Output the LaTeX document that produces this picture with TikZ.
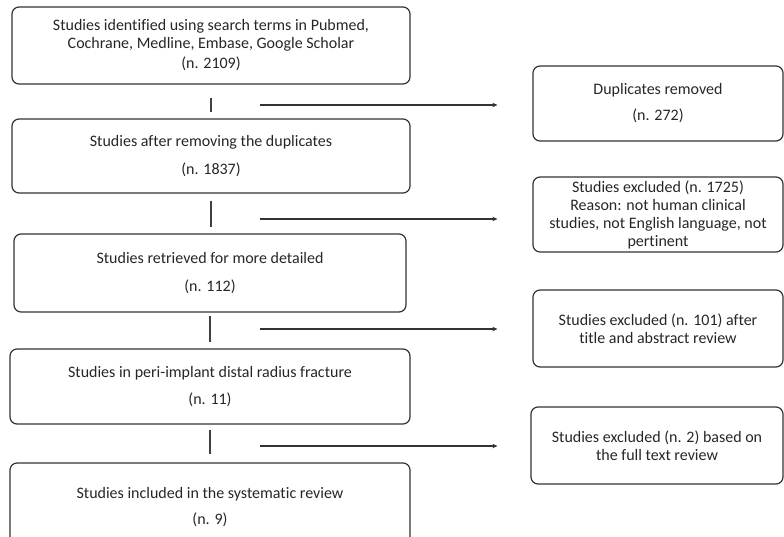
\documentclass[tikz,border=0pt]{standalone}
\usepackage{fontspec}
\setmainfont{Carlito}[Ligatures=NoCommon]
\usetikzlibrary{arrows.meta, positioning}

\begin{document}
\begin{tikzpicture}[x=1pt, y=-1pt, >={Stealth[length=5pt, width=4.5pt]},
  font=\fontsize{16}{18}\selectfont,
  stage/.style={draw=black!80, line width=1.2pt, rounded corners=7pt, align=center,
    text=black!85, inner sep=0pt, minimum width=398pt, minimum height=76pt},
  excl/.style={stage, minimum width=250pt},
  link/.style={draw=black!75, line width=2.4pt},
  drop/.style={->, draw=black!80, line width=1.1pt, shorten >=35pt}]

\useasboundingbox (0,0) rectangle (784,537);

% Left column: studies kept at each step
\node[stage, minimum height=77pt] (found) at (211,45.5)
  {Studies identified using search terms in Pubmed,\\Cochrane, Medline, Embase, Google Scholar\\[2pt](n. 2109)};
\node[stage, minimum height=74pt] (nodup) at (211,156)
  {Studies after removing the duplicates\\[10pt](n. 1837)};
\node[stage, minimum width=392pt, minimum height=78pt] (detail) at (210,273)
  {Studies retrieved for more detailed\\[10pt](n. 112)};
\node[stage, minimum width=400pt, minimum height=75pt] (radius) at (210,386.5)
  {Studies in peri-implant distal radius fracture\\[9pt](n. 11)};
\node[stage, minimum width=400pt, minimum height=88pt] (incl) at (210,507)
  {Studies included in the systematic review\\[8pt](n. 9)};

% Right column: studies dropped
\node[excl, minimum height=75pt] (dup) at (658,103.5)
  {Duplicates removed\\[8pt](n. 272)};
\node[excl, minimum height=75pt] (notpert) at (658,214.5)
  {Studies excluded (n. 1725)\\Reason: not human clinical\\studies, not English language, not\\pertinent};
\node[excl, minimum height=77pt] (abstr) at (658,328.5)
  {Studies excluded (n. 101) after\\title and abstract review};
\node[excl, minimum width=252pt, minimum height=77pt] (fulltext) at (657,445.5)
  {Studies excluded (n. 2) based on\\the full text review};

% Vertical links between steps
\draw[link, shorten <=13pt, shorten >=6pt] (found) -- (found |- nodup.north);
\draw[link, shorten <=7pt, shorten >=6pt] (nodup.south) -- (nodup |- detail.north);
\draw[link, shorten <=3pt, shorten >=6pt] (detail.south) -- (detail |- radius.north);
\draw[link, shorten <=5pt, shorten >=8pt] (radius.south) -- (radius |- incl.north);

% Exclusion arrows
\coordinate (x1) at (260,105);
\coordinate (x2) at (260,219);
\coordinate (x3) at (260,329);
\coordinate (x4) at (260,446);
\draw[drop] (x1) -- (x1 -| dup.west);
\draw[drop] (x2) -- (x2 -| notpert.west);
\draw[drop] (x3) -- (x3 -| abstr.west);
\draw[drop, shorten >=33pt] (x4) -- (x4 -| fulltext.west);

\end{tikzpicture}
\end{document}
